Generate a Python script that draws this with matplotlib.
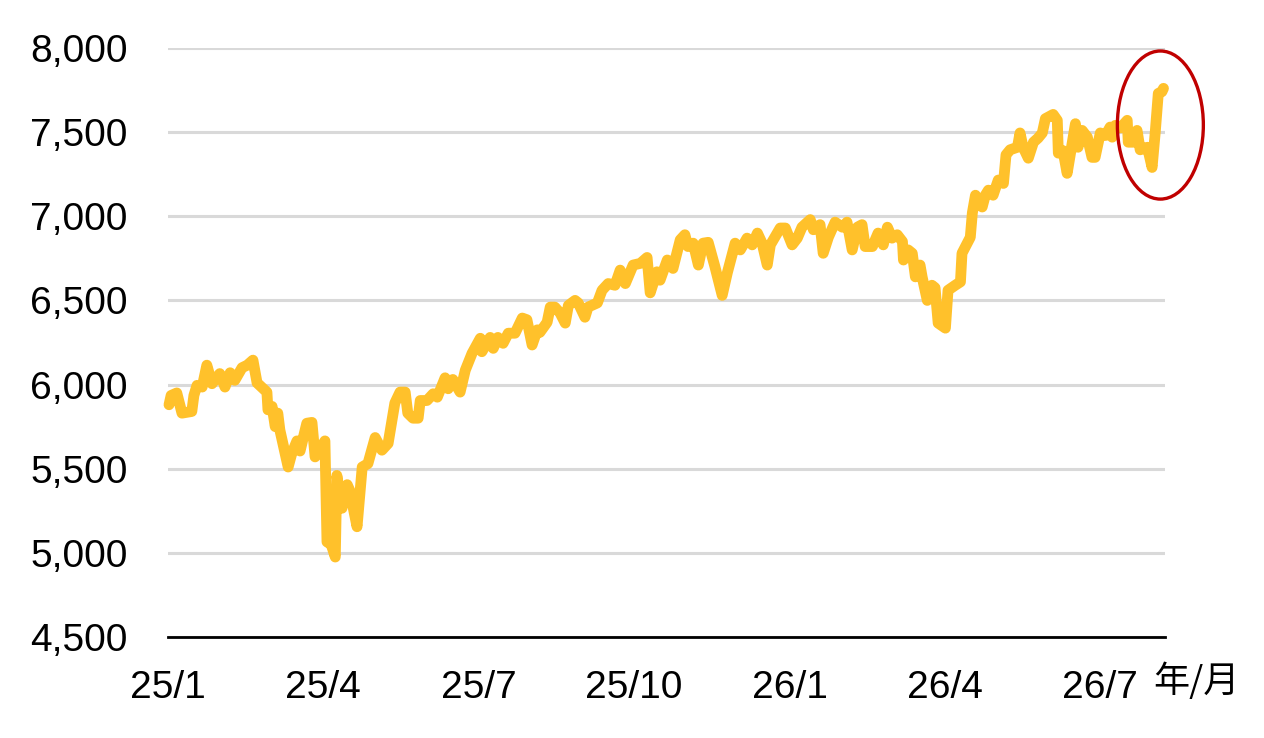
import numpy as np
import matplotlib.pyplot as plt
from matplotlib.patches import Ellipse
from matplotlib.ticker import FuncFormatter

# months since Jan 2025
months = [0.02, 0.06, 0.17, 0.27, 0.46, 0.50, 0.56, 0.66, 0.75, 0.85,
          1.00, 1.10, 1.20, 1.29, 1.43, 1.53, 1.64, 1.72, 1.91, 1.93,
          2.01, 2.07, 2.12, 2.16, 2.32, 2.39, 2.49, 2.55, 2.68, 2.78,
          2.84, 3.03, 3.07, 3.15, 3.23, 3.26, 3.36, 3.46, 3.51, 3.65,
          3.75, 3.86, 4.00, 4.13, 4.25, 4.38, 4.48, 4.58, 4.63, 4.73,
          4.83, 4.87, 5.00, 5.12, 5.20, 5.35, 5.41, 5.50, 5.64, 5.74,
          5.87, 6.03, 6.06, 6.22, 6.28, 6.37, 6.47, 6.57, 6.70, 6.84,
          6.93, 7.03, 7.13, 7.18, 7.32, 7.38, 7.47, 7.57, 7.67, 7.73,
          7.86, 7.92, 8.05, 8.11, 8.29, 8.38, 8.50, 8.63, 8.73, 8.83,
          8.98, 9.12, 9.25, 9.31, 9.44, 9.50, 9.64, 9.75, 9.89, 9.98,
          10.04, 10.14, 10.24, 10.33, 10.43, 10.56, 10.70, 10.80, 10.95, 11.05,
          11.18, 11.28, 11.38, 11.47, 11.57, 11.63, 11.82, 11.92, 12.05, 12.15,
          12.24, 12.40, 12.46, 12.59, 12.65, 12.75, 12.88, 13.02, 13.11, 13.21,
          13.31, 13.40, 13.46, 13.60, 13.71, 13.81, 13.89, 13.98, 14.08, 14.18,
          14.20, 14.29, 14.37, 14.43, 14.52, 14.56, 14.66, 14.75, 14.81, 14.87,
          15.01, 15.06, 15.20, 15.30, 15.33, 15.43, 15.49, 15.53, 15.59, 15.72,
          15.78, 15.84, 15.93, 16.03, 16.13, 16.18, 16.26, 16.40, 16.45, 16.51,
          16.61, 16.71, 16.80, 16.88, 16.94, 17.09, 17.17, 17.19, 17.28, 17.36,
          17.52, 17.57, 17.65, 17.75, 17.84, 17.90, 18.00, 18.10, 18.19, 18.23,
          18.29, 18.39, 18.52, 18.54, 18.64, 18.71, 18.77, 18.91, 19.00, 19.06,
          19.12, 19.19, 19.22]

index_values = [5880, 5935, 5950, 5830, 5840, 5935, 5995, 5985, 6115, 6005,
                6065, 5985, 6070, 6025, 6100, 6115, 6145, 6010, 5955, 5850,
                5870, 5750, 5830, 5730, 5510, 5590, 5665, 5605, 5770, 5775,
                5570, 5665, 5065, 5050, 4975, 5460, 5265, 5405, 5370, 5155,
                5510, 5530, 5685, 5610, 5650, 5890, 5955, 5955, 5830, 5800,
                5800, 5905, 5905, 5945, 5925, 6040, 5975, 6030, 5955, 6085,
                6185, 6275, 6195, 6280, 6215, 6280, 6245, 6305, 6305, 6395,
                6385, 6235, 6325, 6310, 6370, 6460, 6460, 6425, 6365, 6470,
                6500, 6485, 6400, 6460, 6485, 6560, 6600, 6590, 6680, 6600,
                6710, 6720, 6755, 6545, 6670, 6620, 6740, 6690, 6860, 6890,
                6820, 6840, 6710, 6840, 6845, 6700, 6530, 6665, 6840, 6800,
                6870, 6830, 6900, 6840, 6710, 6830, 6930, 6930, 6830, 6870,
                6935, 6980, 6920, 6950, 6780, 6875, 6965, 6935, 6965, 6800,
                6935, 6950, 6820, 6820, 6900, 6830, 6935, 6870, 6890, 6850,
                6740, 6800, 6780, 6640, 6710, 6640, 6500, 6590, 6575, 6365,
                6335, 6560, 6590, 6610, 6780, 6840, 6875, 7020, 7125, 7055,
                7125, 7155, 7125, 7215, 7195, 7365, 7395, 7410, 7495, 7410,
                7345, 7440, 7465, 7495, 7580, 7605, 7570, 7375, 7390, 7255,
                7550, 7410, 7510, 7470, 7350, 7350, 7495, 7480, 7530, 7470,
                7540, 7525, 7570, 7440, 7440, 7510, 7395, 7410, 7290, 7495,
                7730, 7740, 7760]

tick_months = [0, 3, 6, 9, 12, 15, 18]
tick_labels = ['25/1', '25/4', '25/7', '25/10', '26/1', '26/4', '26/7']
y_ticks = [4500, 5000, 5500, 6000, 6500, 7000, 7500, 8000]

plt.rcParams['font.family'] = ['Liberation Sans', 'DejaVu Sans']

fig = plt.figure(figsize=(12.64, 7.38), dpi=100)
ax = fig.add_axes([0.1329, 0.1369, 0.7888, 0.7981])

ax.plot(months, index_values, color='#FFC12B', lw=7.8, solid_joinstyle='round',
        solid_capstyle='round', zorder=3, clip_on=False)

# red ring around the latest move
ring = Ellipse((19.16, 7542), width=1.66, height=880, fill=False,
               edgecolor='#C00000', lw=2.4, zorder=4, clip_on=False)
ax.add_patch(ring)

ax.set_xlim(0, 19.25)
ax.set_ylim(4500, 8000)
ax.set_xticks(tick_months)
ax.set_xticklabels(tick_labels)
ax.set_yticks(y_ticks)
ax.yaxis.set_major_formatter(FuncFormatter(lambda v, p: f'{int(v):,}'))
ax.tick_params(axis='both', length=0, labelsize=28)
ax.tick_params(axis='y', pad=29)
ax.tick_params(axis='x', pad=24)

ax.grid(axis='y', color='#D9D9D9', lw=2.2, zorder=0)
for side in ['top', 'right', 'left']:
    ax.spines[side].set_visible(False)
ax.spines['bottom'].set_linewidth(2)
ax.spines['bottom'].set_zorder(5)

fig.text(0.912, 0.077, '年/月', fontsize=26, ha='left', va='center',
         family=['Noto Sans CJK JP', 'DejaVu Sans'])

fig.savefig('out.png', dpi=100)
